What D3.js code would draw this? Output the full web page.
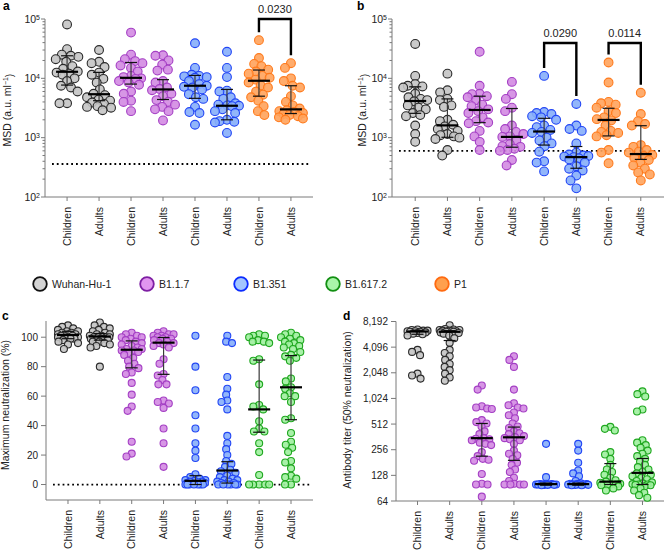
<!DOCTYPE html>
<html><head><meta charset="utf-8">
<script src="https://cdn.jsdelivr.net/npm/d3@7"></script>
<style>
body{margin:0;background:#fff;}
svg{font-family:"Liberation Sans",Arial,Helvetica,sans-serif;}
</style></head>
<body><svg id="chart" width="665" height="550"></svg>
<script>
// ---------- categories ----------
const xLabels = ["Children","Adults","Children","Adults","Children","Adults","Children","Adults"];
const variantsAB = ["Wuhan-Hu-1","Wuhan-Hu-1","B1.1.7","B1.1.7","B1.351","B1.351","P1","P1"];
const variantsCD = ["Wuhan-Hu-1","Wuhan-Hu-1","B1.1.7","B1.1.7","B1.351","B1.351","B1.617.2","B1.617.2"];
const legendNames = ["Wuhan-Hu-1","B1.1.7","B1.351","B1.617.2","P1"];

// ---------- panel a: MSD (a.u./ml) ----------
const msdA = [
 [81000,31000,25000,24000,23000,21000,19000,16000,14500,13000,12500,12000,11500,10000,9000,7500,7000,6000,3800,3800],
 [30000,19000,18000,15500,12500,11500,9800,8500,6500,5500,5200,4800,4400,4200,3900,3700,3400,3300,3200,2900],
 [59000,25000,21000,19500,18000,16500,15000,13000,11000,10500,10000,9800,9000,8500,7800,6000,5500,4200,4000,2800],
 [24500,24000,20000,17000,14000,13500,9000,8500,7000,6600,6300,5500,5000,4300,4000,3600,3300,3000,2800,1950],
 [39000,15000,11500,11000,10800,10500,10200,9000,8000,7500,7200,7000,6500,5400,4800,4500,3300,2700,2600,1650],
 [28000,15000,10500,6200,6000,4800,4500,3800,3600,3500,3450,3400,3000,2800,2600,2000,1900,1850,1800,1200],
 [44000,22000,17500,16000,14000,13000,12000,11000,10200,9500,8500,7600,7000,6000,5300,4800,4200,3400,2800,2400],
 [18000,15000,10000,9000,7500,7000,5000,4000,3500,3100,2900,2800,2700,2600,2500,2400,2300,2200,2100,2000]
];
const medA = [12900,5400,10200,6500,7500,3450,9100,3000];
const q3A  = [24000,12600,18500,9500,11200,6500,13800,7500];
const q1A  = [7700,4200,8000,4400,4600,2000,5000,2550];
const cutoffA = 360;

// ---------- panel b: MSD (a.u./ml) ----------
const msdB = [
 [38000,11000,8000,7500,7300,7000,5500,4800,4500,4300,4100,3500,3200,3000,2600,2400,2300,1600,1150,850],
 [12000,6300,5800,4500,4300,3500,3300,2000,1900,1650,1550,1400,1300,1150,1100,1050,1000,950,620,500],
 [28000,7500,5500,5400,5000,4800,4300,3600,3400,3000,2800,2600,2200,1900,1800,1750,1300,1050,850,620],
 [8700,5400,4500,3200,2800,1600,1400,1250,1150,1050,1030,900,780,720,700,650,620,600,420,340],
 [11000,2700,2600,2500,2300,2200,2000,1600,1500,1350,1250,1200,1000,900,800,720,580,400,380,270],
 [3700,1600,1400,1300,800,560,520,500,490,480,470,450,430,380,330,300,280,230,190,140],
 [18500,8500,4000,3800,3600,3200,2800,2600,2200,2050,1950,1600,1300,1250,1200,1100,1050,620,560,370],
 [5700,2500,1900,1700,1600,750,700,620,580,560,510,490,460,420,380,340,300,260,240,190]
];
const medB = [4150,1610,2930,1030,1270,470,1990,530];
const q3B  = [7200,4500,5000,3100,2120,710,3130,1590];
const q1B  = [2570,1015,1790,690,750,305,1070,430];
const cutoffB = 600;

// ---------- panel c: maximum neutralization (%) ----------
const neutC = [
 [108,107,106,105,104,104,103,103,102,102,102,101,101,101,100,100,100,99,99,98,97,96,95,92],
 [110,108,107,106,105,104,103,102,102,101,101,100,100,100,100,99,99,99,98,98,97,97,96,95,94,93,80],
 [103,102,101,100,100,99,98,97,96,95,94,93,92,92,91,91,90,89,88,86,84,82,80,79,76,75,69,61,53,50,29,21,19],
 [104,103,102,102,101,101,100,100,99,99,98,97,96,96,95,94,93,85,82,75,74,71,68,68,57,56,55,52,38,28,12],
 [101,80,64,47,38,28,23,18,7,5,4,3,3,2.5,2,2,1.5,1,1,0.5,0.5,0,0,0,0,0,0,0],
 [101,97,96,73,65,61,57,56,51,33,28,24,20,16,14,12,10,9,8,6,5,4,3,3,2,2,1,1,0.5,0,0,0,0,0,0],
 [102,101,101,100,98,97,97,96,85,84,68,54,53,51,43,38,36,36,28,22,6.5,0,0,0,0,0],
 [103,102,101,100,99,98,97,96,95,94,93,92,90,88,87,86,84,72,70,66,65,62,60,60,56,45,44,35,29,27,25,22,16,15,11,6,5,4,0,0]
];
const medC = [101.5,100.5,91.5,96.3,2.5,9.5,51,66];
const q3C  = [104,102.5,97.5,99.8,6,15.5,84.5,87.5];
const q1C  = [99,98,79.2,74.8,0,1,35.5,44];
const cutoffC = 0;

// ---------- panel d: antibody titer (50% neutralization) ----------
const titerD = [
 [6600,6500,6400,6400,6300,6300,6200,6200,6100,6000,5900,5800,5600,3800,3600,3300,2000,1900,1750],
 [7400,6700,6600,6500,6500,6400,6400,6300,6300,6200,6200,6100,6000,5900,5600,5200,4600,3800,3500,3200,2900,2600,2400,2200,2000,1800,1650],
 [1450,1300,830,800,780,770,570,540,520,480,420,390,350,345,340,330,310,300,290,240,215,200,195,190,133,102,100,100,72],
 [3200,2900,2400,1300,900,850,800,780,700,650,600,520,480,460,420,400,390,370,360,350,340,330,300,250,230,220,200,180,170,150,140,120,110,102,100,100,100,100],
 [300,122,102,101,101,100,100,100,100,100,99,99,99,98],
 [300,250,180,146,135,125,110,103,102,101,101,100,100,100,100,99,99,98,98],
 [475,450,430,240,225,200,170,150,140,130,120,112,108,105,102,100,100,100,99,98,95,90,85],
 [1240,1150,1080,760,720,330,310,290,270,250,230,215,200,185,170,160,150,140,135,130,125,120,115,110,106,103,101,100,100,99,98,95,90,85,80,75,70]
];
const medD = [6250,6200,350,358,101,101,108,137];
const q3D  = [6450,6400,520,472,104,104,176,202];
const q1D  = [5800,4900,215,192,98,98,100,100];
const titerTicks = [64,128,256,512,1024,2048,4096,8192];

// ---------- brackets (p values) ----------
const bracketsA = [{from:6,to:7,label:"0.0230"}];
const bracketsB = [{from:4,to:5,label:"0.0290"},{from:6,to:7,label:"0.0114"}];

// ---------- styling ----------
const fills   = {"Wuhan-Hu-1":"#c4c4c4","B1.1.7":"#d38be2","B1.351":"#86aefa","B1.617.2":"#9ff09f","P1":"#ffa35c"};
const strokes = {"Wuhan-Hu-1":"#2a2a2a","B1.1.7":"#a43fc4","B1.351":"#2145f5","B1.617.2":"#1fa71f","P1":"#ff7a1c"};
const legFill = {"Wuhan-Hu-1":"#d3d3d3","B1.1.7":"#e195ef","B1.351":"#a3c6ff","B1.617.2":"#a9f5a9","P1":"#ffa04e"};
const legStroke={"Wuhan-Hu-1":"#111","B1.1.7":"#7e1fa3","B1.351":"#0b2cff","B1.617.2":"#128f12","P1":"#ff6a10"};
const axisCol = "#7a7a7a";
const textCol = "#222";

const svg = d3.select("#chart");

// beeswarm with a maximum half-width; overlaps allowed when the lane is full
function swarm(values, y, cx, sep, maxW){
  const pts = values.map(v=>({v, y:y(v)})).sort((a,b)=>a.y-b.y);
  const placed=[];
  pts.forEach(p=>{
    const iv=[];
    placed.forEach(q=>{const dy=Math.abs(q.y-p.y); if(dy<sep){const dx=Math.sqrt(sep*sep-dy*dy); iv.push([q.x-dx,q.x+dx]);}});
    const cands=[0]; iv.forEach(([a,b])=>cands.push(a,b));
    cands.sort((a,b)=>Math.abs(a)-Math.abs(b)||a-b);
    let x=null;
    for(const c of cands){ if(Math.abs(c)<=maxW && iv.every(([a,b])=>c<=a+1e-6||c>=b-1e-6)){x=c;break;} }
    if(x===null){
      let best=-1;
      for(let c=-maxW;c<=maxW+1e-9;c+=0.5){
        let md=Infinity;
        placed.forEach(q=>{const d=Math.hypot(q.x-c,q.y-p.y); if(d<md)md=d;});
        if(md>best+1e-6 || (Math.abs(md-best)<1e-6 && Math.abs(c)<Math.abs(x))){best=md;x=c;}
      }
    }
    p.x=x; placed.push(p);
  });
  return pts.map(p=>({v:p.v,y:p.y,x:cx+p.x}));
}

function panel(o){
  const g = svg.append("g");
  const x = d3.scalePoint().domain(d3.range(8)).range([o.x0,o.x1]).padding(o.pad);
  const y = o.y;
  g.append("line").attr("x1",o.x0).attr("x2",o.x1).attr("y1",o.yAxis).attr("y2",o.yAxis)
    .attr("stroke",axisCol).attr("stroke-width",1);
  d3.range(8).forEach(i=>{
    g.append("line").attr("x1",x(i)).attr("x2",x(i)).attr("y1",o.yAxis).attr("y2",o.yAxis+4)
      .attr("stroke",axisCol);
    g.append("text").attr("transform",`translate(${x(i)},${o.yAxis+10}) rotate(-90)`)
      .attr("text-anchor","end").attr("dy","0.35em").attr("font-size",o.xfs)
      .attr("fill",textCol).text(xLabels[i]);
  });
  g.append("line").attr("x1",o.x0).attr("x2",o.x0).attr("y1",y.range()[1]).attr("y2",o.yAxis)
    .attr("stroke",axisCol);
  o.yTicks(g,y);
  g.append("text").attr("transform",`translate(${o.ylx},${o.yly}) rotate(-90)`)
    .attr("text-anchor","middle").attr("font-size",o.ylfs).attr("fill",textCol)
    .each(function(){ o.ylabel(d3.select(this)); });
  if(o.cutoff!==undefined){
    g.append("line").attr("x1",o.x0+7).attr("x2",o.x1-3).attr("y1",y(o.cutoff)).attr("y2",y(o.cutoff))
      .attr("stroke","#000").attr("stroke-width",1.8).attr("stroke-dasharray","1.8,3");
  }
  o.data.forEach((vals,i)=>{
    const vname=o.variants[i];
    const pts=swarm(vals,y,x(i),o.sep,o.maxW);
    g.selectAll(null).data(pts).enter().append("circle")
      .attr("cx",d=>d.x).attr("cy",d=>d.y).attr("r",o.r)
      .attr("fill",fills[vname]).attr("fill-opacity",0.9)
      .attr("stroke",strokes[vname]).attr("stroke-width",1.1);
  });
  d3.range(8).forEach(i=>{
    const cx=x(i);
    g.append("line").attr("x1",cx).attr("x2",cx).attr("y1",y(o.q1[i])).attr("y2",y(o.q3[i]))
      .attr("stroke","#3a3a3a").attr("stroke-width",1.2);
    [o.q1[i],o.q3[i]].forEach(v=>{
      g.append("line").attr("x1",cx-6).attr("x2",cx+6).attr("y1",y(v)).attr("y2",y(v))
        .attr("stroke","#111").attr("stroke-width",1.2);
    });
    g.append("line").attr("x1",cx-11).attr("x2",cx+11).attr("y1",y(o.med[i])).attr("y2",y(o.med[i]))
      .attr("stroke","#000").attr("stroke-width",2.2);
  });
  (o.brackets||[]).forEach(b=>{
    const xa=x(b.from), xb=x(b.to);
    const top=o.bTop;
    const la=d3.min(o.data[b.from].map(v=>y(v)))-8;
    const lb=d3.min(o.data[b.to].map(v=>y(v)))-8;
    g.append("path").attr("d",`M${xa},${la}V${top}H${xb}V${lb}`)
      .attr("fill","none").attr("stroke","#000").attr("stroke-width",2.4);
    g.append("text").attr("x",(xa+xb)/2).attr("y",top-6).attr("text-anchor","middle")
      .attr("font-size",11).attr("fill",textCol).text(b.label);
  });
  g.append("text").attr("x",o.lx).attr("y",o.ly).attr("font-size",12).attr("font-weight","bold")
    .attr("fill","#000").text(o.letter);
}

function logTicks(g,y,x0){
  [100,1000,10000,100000].forEach((v,k)=>{
    g.append("line").attr("x1",x0-4).attr("x2",x0).attr("y1",y(v)).attr("y2",y(v)).attr("stroke",axisCol);
    const t=g.append("text").attr("x",x0-5).attr("y",y(v)).attr("dy","0.35em").attr("text-anchor","end")
      .attr("font-size",10.5).attr("fill",textCol);
    t.append("tspan").text("10");
    t.append("tspan").attr("font-size",7).attr("dy","-0.45em").text(String(k+2));
  });
  [100,1000,10000].forEach(dec=>{
    d3.range(2,10).forEach(m=>{
      g.append("line").attr("x1",x0-2.5).attr("x2",x0).attr("y1",y(dec*m)).attr("y2",y(dec*m)).attr("stroke",axisCol);
    });
  });
}
function msdLabel(sel){
  sel.append("tspan").text("MSD (a.u. ml");
  sel.append("tspan").attr("font-size",7).attr("dy","-0.5em").text("\u22121");
  sel.append("tspan").attr("dy","0.5em").text(")");
}

const yA = d3.scaleLog().domain([100,1e5]).range([197,19]);
panel({letter:"a",lx:3,ly:10,x0:45,x1:313,pad:0.69,y:yA,yAxis:197,xfs:10.5,
  yTicks:(g,y)=>logTicks(g,y,45),ylx:11,yly:110,ylfs:10.5,ylabel:msdLabel,
  cutoff:cutoffA,data:msdA,variants:variantsAB,r:4.4,sep:7.6,maxW:12,
  med:medA,q1:q1A,q3:q3A,brackets:bracketsA,bTop:19});

const yB = d3.scaleLog().domain([100,1e5]).range([197,19]);
panel({letter:"b",lx:357,ly:10,x0:392,x1:664,pad:0.72,y:yB,yAxis:197,xfs:10.5,
  yTicks:(g,y)=>logTicks(g,y,392),ylx:366,yly:110,ylfs:10.5,ylabel:msdLabel,
  cutoff:cutoffB,data:msdB,variants:variantsAB,r:4.4,sep:7.6,maxW:12,
  med:medB,q1:q1B,q3:q3B,brackets:bracketsB,bTop:43});

const yC = d3.scaleLinear().domain([-10.5,111]).range([500,321]);
panel({letter:"c",lx:2,ly:320,x0:46,x1:313,pad:0.69,y:yC,yAxis:500,xfs:10.5,
  yTicks:(g,y)=>{ d3.range(0,101,20).forEach(v=>{
      g.append("line").attr("x1",41).attr("x2",46).attr("y1",y(v)).attr("y2",y(v)).attr("stroke",axisCol);
      g.append("text").attr("x",38).attr("y",y(v)).attr("dy","0.35em").attr("text-anchor","end")
        .attr("font-size",10).attr("fill",textCol).text(v);
    });},
  ylx:9,yly:405,ylfs:10.5,ylabel:s=>s.text("Maximum neutralization (%)"),
  cutoff:cutoffC,data:neutC,variants:variantsCD,r:3.5,sep:6.0,maxW:10,
  med:medC,q1:q1C,q3:q3C});

const yD = d3.scaleLog().base(2).domain([64,8192]).range([501,321.5]);
panel({letter:"d",lx:343,ly:320,x0:396,x1:664,pad:0.67,y:yD,yAxis:501,xfs:10.5,
  yTicks:(g,y)=>{ titerTicks.forEach(v=>{
      g.append("line").attr("x1",391).attr("x2",396).attr("y1",y(v)).attr("y2",y(v)).attr("stroke",axisCol);
      g.append("text").attr("x",388).attr("y",y(v)).attr("dy","0.35em").attr("text-anchor","end")
        .attr("font-size",10).attr("fill",textCol).text(d3.format(",")(v));
    });},
  ylx:351,yly:410,ylfs:10.5,ylabel:s=>s.text("Antibody titer (50% neutralization)"),
  data:titerD,variants:variantsCD,r:3.5,sep:5.8,maxW:10,
  med:medD,q1:q1D,q3:q3D});

// ---------- legend ----------
const legX = [40,147,241,333,442];
const leg = svg.append("g");
legendNames.forEach((n,i)=>{
  leg.append("circle").attr("cx",legX[i]).attr("cy",284).attr("r",6.8)
    .attr("fill",legFill[n]).attr("stroke",legStroke[n]).attr("stroke-width",1.8);
  leg.append("text").attr("x",legX[i]+12).attr("y",284).attr("dy","0.35em")
    .attr("font-size",10.5).attr("font-family","'Liberation Sans Narrow','Arial Narrow',sans-serif")
    .attr("fill",textCol).text(n);
});
</script></body></html>
